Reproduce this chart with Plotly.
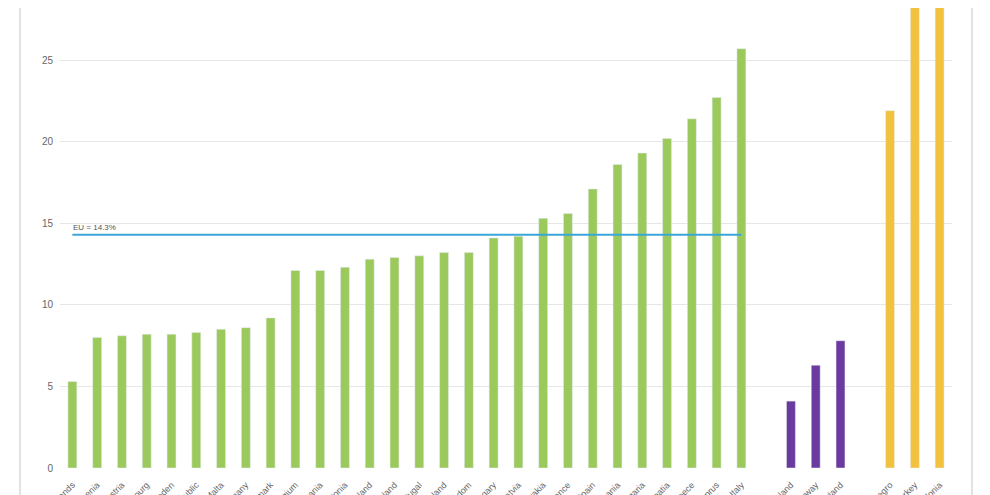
import plotly.graph_objects as go

# EU member states (sorted ascending)
eu_countries = ["Netherlands", "Slovenia", "Austria", "Luxembourg", "Sweden",
                "Czech Republic", "Malta", "Germany", "Denmark", "Belgium",
                "Lithuania", "Estonia", "Poland", "Ireland", "Portugal",
                "Finland", "United Kingdom", "Hungary", "Latvia", "Slovakia",
                "France", "Spain", "Romania", "Bulgaria", "Croatia", "Greece",
                "Cyprus", "Italy"]
eu_values = [5.3, 8.0, 8.1, 8.2, 8.2, 8.3, 8.5, 8.6, 9.2, 12.1,
             12.1, 12.3, 12.8, 12.9, 13.0, 13.2, 13.2, 14.1, 14.2, 15.3,
             15.6, 17.1, 18.6, 19.3, 20.2, 21.4, 22.7, 25.7]

efta_countries = ["Iceland", "Norway", "Switzerland"]
efta_values = [4.1, 6.3, 7.8]

cand_countries = ["Montenegro", "Turkey", "North Macedonia"]
cand_values = [21.9, 30.5, 31.5]

eu_average = 14.3
eu_label = "EU = 14.3%"
y_ticks = [0, 5, 10, 15, 20, 25]

# positions: groups separated by one empty slot
eu_x = list(range(len(eu_countries)))
efta_x = [len(eu_countries) + 1 + i for i in range(len(efta_countries))]
cand_x = [efta_x[-1] + 2 + i for i in range(len(cand_countries))]
n_slots = cand_x[-1] + 1

fig = go.Figure()
fig.add_trace(go.Bar(x=eu_x, y=eu_values, marker_color="#9bc95c", width=0.36,
                     name="EU", hoverinfo="y"))
fig.add_trace(go.Bar(x=efta_x, y=efta_values, marker_color="#6b3a9e", width=0.36,
                     name="EFTA", hoverinfo="y"))
fig.add_trace(go.Bar(x=cand_x, y=cand_values, marker_color="#f2c23e", width=0.36,
                     name="Candidates", hoverinfo="y"))

# EU average line
fig.add_shape(type="line", xref="x", yref="y", x0=eu_x[0], x1=eu_x[-1],
              y0=eu_average, y1=eu_average, line=dict(color="#3aa6da", width=2))
fig.add_annotation(x=eu_x[0], y=eu_average, xref="x", yref="y", text=eu_label,
                   showarrow=False, xanchor="left", yanchor="bottom", xshift=-1, yshift=1,
                   font=dict(size=8, color="#555555", family="Arial, Liberation Sans, sans-serif"))

# container frame lines (left/right)
for xp in [-0.0448, 1.0224]:
    fig.add_shape(type="line", xref="paper", yref="paper", x0=xp, x1=xp, y0=-0.1, y1=1.1,
                  line=dict(color="#e2e2e2", width=2))

fig.update_layout(
    width=990, height=495,
    margin=dict(l=52, r=46, t=0, b=35, autoexpand=False),
    plot_bgcolor="white", paper_bgcolor="white",
    showlegend=False,
    font=dict(family="Arial, Liberation Sans, sans-serif", color="#666666", size=10),
    xaxis=dict(range=[-0.5, n_slots - 0.5], automargin=False,
               tickvals=eu_x + efta_x + cand_x,
               ticktext=eu_countries + efta_countries + cand_countries,
               tickangle=-45, showgrid=False, zeroline=False, showline=False,
               ticks="", ticklabelstandoff=9, tickfont=dict(size=9, color="#666666")),
    yaxis=dict(range=[0, 28.19], tickvals=y_ticks, showgrid=True, automargin=False,
               gridcolor="#e6e6e6", gridwidth=1, zeroline=False, showline=False,
               ticks="", ticklabelstandoff=6, tickfont=dict(size=10, color="#666666")),
)

fig.write_html("out.html")
